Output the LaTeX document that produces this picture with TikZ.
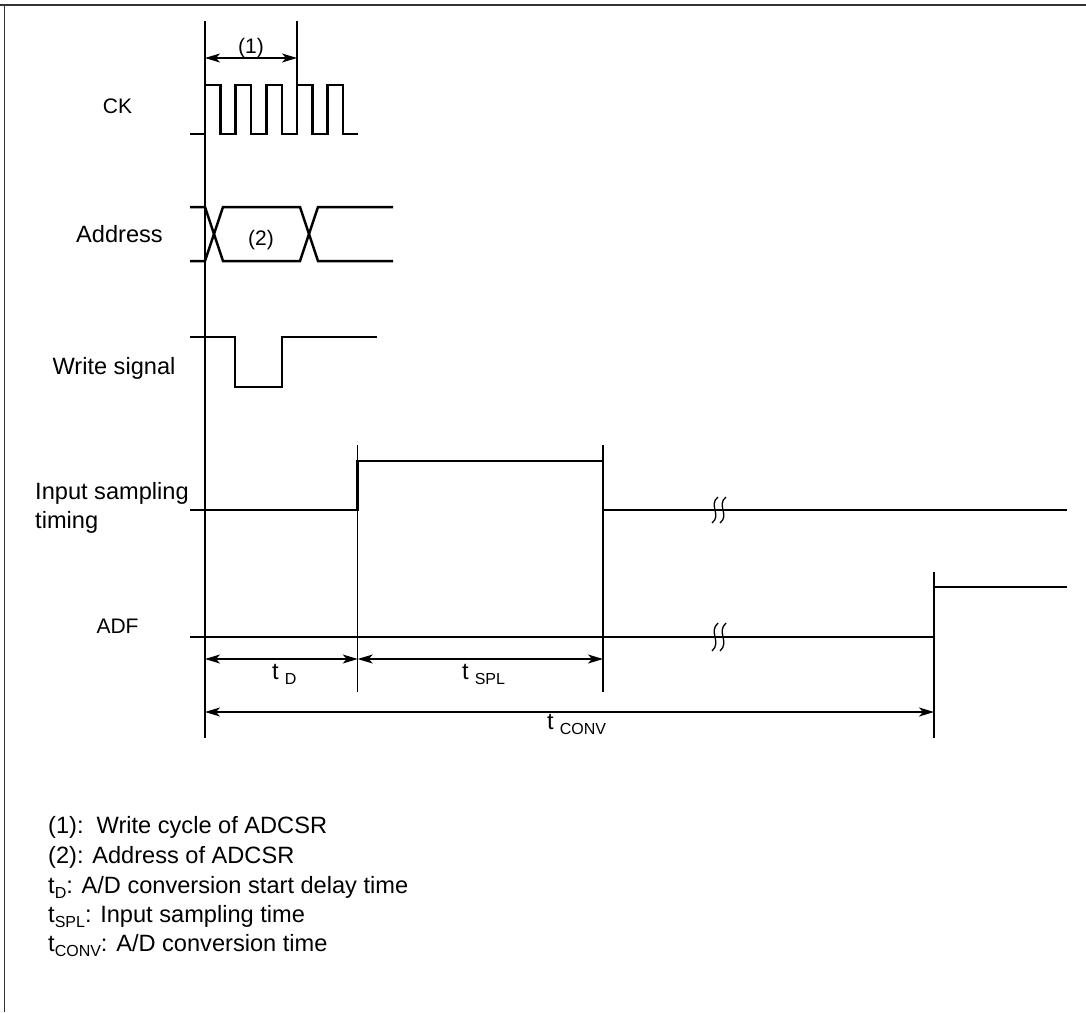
\documentclass[tikz,border=0pt]{standalone}
\usepackage{fontspec}
\setmainfont{Liberation Sans}
\usetikzlibrary{arrows.meta}
\newcommand\lsub[1]{\raisebox{-5pt}{\fontsize{16}{16}\selectfont #1}}
\newcommand\tlab[1]{t\hspace{6pt}\lsub{#1}}
\begin{document}
\begin{tikzpicture}[x=1pt,y=-1pt,
  wave/.style={line width=2.5pt,line join=miter,line cap=butt},
  guide/.style={line width=1.1pt},
  dimarrow/.style={line width=1.1pt,{Stealth[length=15pt,width=9pt,inset=4pt]}-{Stealth[length=15pt,width=9pt,inset=4pt]}},
  brk/.style={line width=1.3pt},
  lbl/.style={font=\fontsize{23.6}{28}\selectfont,inner sep=0pt},
  slbl/.style={font=\fontsize{21}{25}\selectfont,inner sep=0pt}]
\useasboundingbox (0,0) rectangle (1086,1012);
% frame
\draw[line width=2pt,black!80] (0,5) -- (1086,5);
\draw[line width=1.4pt,black!80] (4.5,4) -- (4.5,1012);

% coordinates for guides
\coordinate (g0t) at (205,21);   \coordinate (g0b) at (205,738);
\coordinate (g1t) at (297,21);   \coordinate (g1b) at (297,85);
\coordinate (g2t) at (357.7,445);\coordinate (g2b) at (357.7,692);
\coordinate (g3t) at (603,445);  \coordinate (g3b) at (603,692);
\coordinate (g4t) at (934,572);  \coordinate (g4b) at (934,738);
\draw[guide] (g0t) -- (g0b);
\draw[guide] (g1t) -- (g1b);
\draw[guide] (g2t) -- (g2b);
\draw[guide] (g3t) -- (g3b);
\draw[guide] (g4t) -- (g4b);

% dimension arrows
\coordinate (a1l) at (205,58);  \coordinate (a1r) at (297,58);
\draw[dimarrow] (a1l) -- (a1r);
\node[slbl,anchor=base] (n1) at (251,53) {(1)};
\coordinate (tdl) at (205,659); \coordinate (tdr) at (357.7,659);
\coordinate (tsl) at (357.7,659); \coordinate (tsr) at (603,659);
\coordinate (tcl) at (205,712); \coordinate (tcr) at (934,712);
\draw[dimarrow] (tdl) -- (tdr);
\draw[dimarrow] (tsl) -- (tsr);
\draw[dimarrow] (tcl) -- (tcr);
\node[lbl,anchor=base west] (ntd) at (272,679) {\tlab{D}};
\node[lbl,anchor=base west] (nts) at (462,679) {\tlab{SPL}};
\node[lbl,anchor=base west] (ntc) at (547,729) {\tlab{CONV}};

% CK
\node[slbl,anchor=base] (lck) at (117.5,113) {CK};
\draw[wave] (190,134) -- (205,134) -- (205,85) -- (220.5,85) -- (220.5,134)
  -- (235.7,134) -- (235.7,85) -- (251.2,85) -- (251.2,134)
  -- (266.3,134) -- (266.3,85) -- (281.8,85) -- (281.8,134)
  -- (297,134) -- (297,85) -- (312.5,85) -- (312.5,134)
  -- (327.7,134) -- (327.7,85) -- (343.2,85) -- (343.2,134) -- (358,134);

% Address
\node[lbl,anchor=base] (ladr) at (119.5,242.5) {Address};
\draw[wave] (190,207) -- (205,207) -- (223,261) -- (300,261) -- (318,207) -- (393,207);
\draw[wave] (190,261) -- (205,261) -- (223,207) -- (300,207) -- (318,261) -- (393,261);
\node[slbl,anchor=base] (n2) at (261,245) {(2)};

% Write signal
\node[lbl,anchor=base] (lwr) at (114,374) {Write signal};
\draw[wave] (190,337) -- (235,337) -- (235,387) -- (282,387) -- (282,337) -- (377,337);

% Input sampling timing
\node[lbl,anchor=base west] (lin1) at (35,499) {Input sampling};
\node[lbl,anchor=base west] (lin2) at (35,528) {timing};
\draw[wave] (190,510) -- (357.7,510) -- (357.7,461) -- (603,461) -- (603,510) -- (1067,510);

% ADF
\node[slbl,anchor=base] (ladf) at (117.5,633) {ADF};
\draw[wave] (190,637) -- (934,637) -- (934,587) -- (1067,587);

% break marks
\foreach \bx in {715,723}{
  \draw[brk] (\bx+3,497) .. controls (\bx-7,505) and (\bx+7,515) .. (\bx-3,523);
  \draw[brk] (\bx+3,623) .. controls (\bx-7,632) and (\bx+7,642) .. (\bx-3,651);
}

% legend
\node[lbl,anchor=base west] (leg1) at (48,833) {(1):\ \ Write cycle of ADCSR};
\node[lbl,anchor=base west] (leg2) at (48,863) {(2): Address of ADCSR};
\node[lbl,anchor=base west] (leg3) at (48,893) {t\lsub{D}: A/D conversion start delay time};
\node[lbl,anchor=base west] (leg4) at (48,922) {t\lsub{SPL}: Input sampling time};
\node[lbl,anchor=base west] (leg5) at (48,951) {t\lsub{CONV}: A/D conversion time};
\end{tikzpicture}
\end{document}
